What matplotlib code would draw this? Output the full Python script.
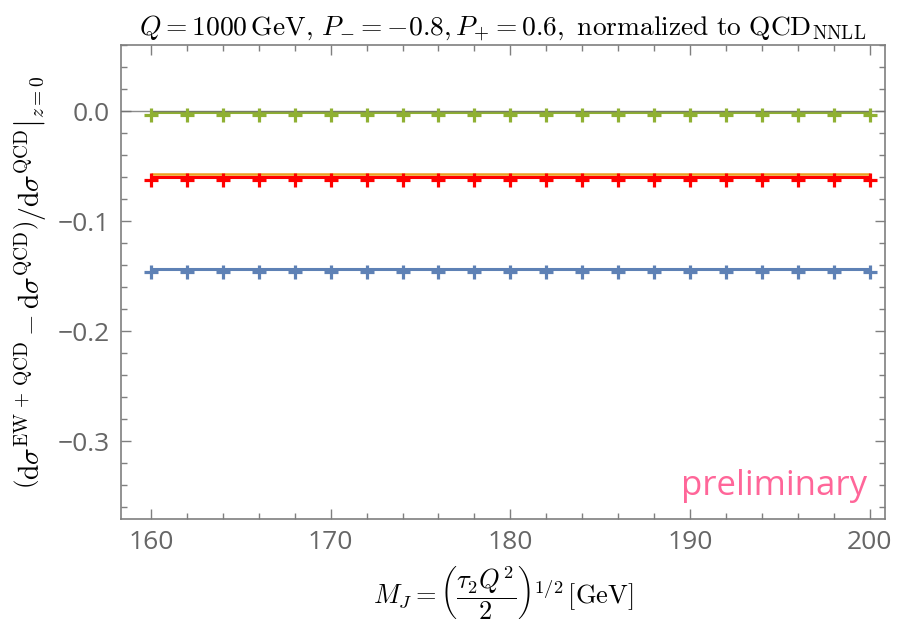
import numpy as np
import matplotlib
matplotlib.use("Agg")
import matplotlib.pyplot as plt
from matplotlib.ticker import MultipleLocator, FuncFormatter

plt.rcParams['mathtext.fontset'] = 'cm'
plt.rcParams['font.family'] = ['Open Sans', 'DejaVu Sans']

# jet mass grid (GeV)
mj = np.arange(160, 201, 2)

# ratio curves (lines) and sampled points (markers)
green_line = np.full(mj.shape, -0.0005)
green_pts = np.full(mj.shape, -0.0036)
orange_line = np.full(mj.shape, -0.0575)
red_line = np.full(mj.shape, -0.0597)
red_pts = np.full(mj.shape, -0.0627)
blue_line = np.full(mj.shape, -0.1436)
blue_pts = np.full(mj.shape, -0.1467)

c_green = '#8fb032'
c_orange = '#eda01e'
c_red = '#ff0000'
c_blue = '#5e81b5'
c_frame = '#7f7f7f'
c_tick = '#666666'

fig = plt.figure(figsize=(9, 6.25), dpi=100)
ax = fig.add_axes([0.1341, 0.169, 0.8492, 0.759])

mk = dict(ls='none', marker='+', ms=10.5, mew=2.3, zorder=5)

ax.plot(mj, green_line, color=c_green, lw=2.2, solid_capstyle='butt', zorder=3)
ax.axhline(0, color='#707070', lw=1.0, alpha=0.8, zorder=4)
ax.plot(mj, green_pts, color=c_green, **mk)

ax.plot(mj, orange_line, color=c_orange, lw=1.8, solid_capstyle='butt', zorder=3)
ax.plot(mj, red_line, color=c_red, lw=2.2, solid_capstyle='butt', zorder=3)
ax.plot(mj, red_pts, color=c_red, **mk)

ax.plot(mj, blue_line, color=c_blue, lw=2.2, solid_capstyle='butt', zorder=3)
ax.plot(mj, blue_pts, color=c_blue, **mk)

ax.set_xlim(158.31, 200.86)
ax.set_ylim(-0.3712, 0.06)

ax.xaxis.set_major_locator(MultipleLocator(10))
ax.xaxis.set_minor_locator(MultipleLocator(2))
ax.yaxis.set_major_locator(MultipleLocator(0.1))
ax.yaxis.set_minor_locator(MultipleLocator(0.02))
ax.yaxis.set_major_formatter(FuncFormatter(lambda v, p: ('\u2212' if v < -1e-9 else '') + f'{abs(v):.1f}'))

for s in ax.spines.values():
    s.set_color(c_frame)
    s.set_linewidth(1.2)
ax.tick_params(which='both', direction='in', top=True, right=True, color=c_frame,
               labelcolor=c_tick, labelsize=19, width=1.0)
ax.tick_params(which='major', length=7, pad=8)
ax.tick_params(which='minor', length=4)

ax.set_title(r'$Q = 1000\,\mathrm{GeV},\, P_{-} = -0.8, P_{+} = 0.6,\ \mathrm{normalized\ to\ QCD}_{\mathrm{NNLL}}$',
             fontsize=19.8, pad=7)
ax.set_xlabel(r'$M_J = \left(\dfrac{\tau_2 Q^2}{2}\right)^{1/2}\,[\mathrm{GeV}]$', fontsize=19, labelpad=6)
ax.set_ylabel(r'$\left.\left(\mathrm{d}\sigma^{\mathrm{EW\,+\,QCD}} - \mathrm{d}\sigma^{\mathrm{QCD}}\right)/\mathrm{d}\sigma^{\mathrm{QCD}}\right|_{z=0}$',
              fontsize=20, labelpad=6)

ax.text(0.977, 0.035, 'preliminary', transform=ax.transAxes, ha='right', va='bottom',
        color='#ff6699', fontsize=25)

fig.savefig('out.png', dpi=100)
